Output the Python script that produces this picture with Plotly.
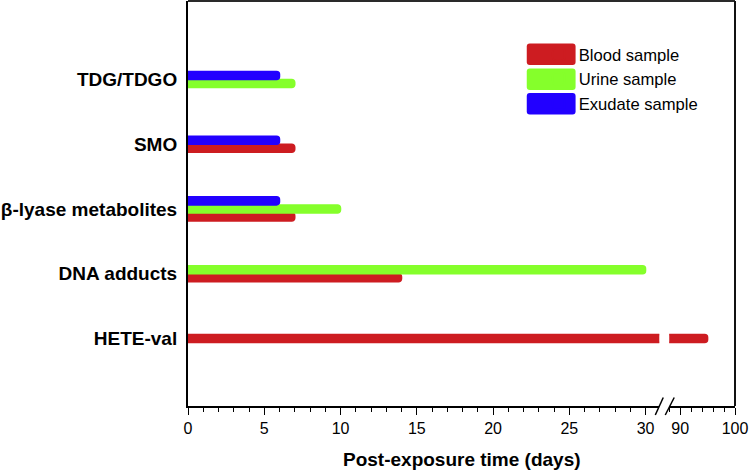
import plotly.graph_objects as go

# ---------------- data ----------------
categories = ["HETE-val", "DNA adducts", "β-lyase metabolites", "SMO", "TDG/TDGO"]  # bottom -> top
blood = [95, 14, 7, 7, None]
urine = [None, 30, 10, None, 7]
exudate = [None, None, 6, 6, 6]
series_names = ["Blood sample", "Urine sample", "Exudate sample"]
major_ticks_low = [0, 5, 10, 15, 20, 25, 30]
major_ticks_high = [90, 100]

# ---------------- styling ----------------
colors = {"Blood sample": "#CD1C21", "Urine sample": "#85FF2B", "Exudate sample": "#2200FF"}
FONT = "Liberation Sans, Arial, sans-serif"
W, H = 750, 472
L, R, T, B = 186, 15, 1, 66
PW, PH = W - L - R, H - T - B


def pxx(x):
    return (x - L) / PW


def pxy(y):
    return (T + PH - y) / PH


series_vals = {"Blood sample": blood, "Urine sample": urine, "Exudate sample": exudate}
stack_order = ["Exudate sample", "Urine sample", "Blood sample"]  # top -> bottom inside a category
bw = 0.125

offsets = {n: [None] * len(categories) for n in series_names}
for i in range(len(categories)):
    present = [n for n in stack_order if series_vals[n][i] is not None]
    nn = len(present)
    for k, n in enumerate(present):
        offsets[n][i] = nn * bw / 2 - (k + 1) * bw
for n in series_names:
    offsets[n] = [o if o is not None else 0 for o in offsets[n]]

fig = go.Figure()
for n in series_names:
    for xa, show in (("x", True), ("x2", False)):
        fig.add_trace(go.Bar(
            y=categories, x=series_vals[n], orientation="h", name=n,
            xaxis=xa, yaxis="y", offset=offsets[n], width=bw,
            marker=dict(color=colors[n], line=dict(color=colors[n], width=1.5), cornerradius=3),
            showlegend=show, legendgroup=n, hoverinfo="x+y",
        ))

x1_end, x2_start = pxx(659), pxx(669)
axis_common = dict(showline=True, linecolor="black", linewidth=1.5, showgrid=False, zeroline=False,
                   ticks="outside", ticklen=7, tickwidth=1.2, tickcolor="black",
                   tickfont=dict(family=FONT, size=16, color="black"), ticklabelstandoff=0)

fig.update_layout(
    width=W, height=H, margin=dict(l=L, r=R, t=T, b=B),
    paper_bgcolor="white", plot_bgcolor="white", barmode="overlay",
    font=dict(family=FONT, color="black"),
    xaxis=dict(domain=[0, x1_end], range=[0, 30.9], tickmode="array", tickvals=major_ticks_low,
               minor=dict(dtick=1, tick0=0, ticks="outside", ticklen=4, tickwidth=1.2, tickcolor="black"),
               anchor="y", **axis_common),
    xaxis2=dict(domain=[x2_start, 1], range=[88, 100], tickmode="array", tickvals=major_ticks_high,
                minor=dict(dtick=2, tick0=90, ticks="outside", ticklen=4, tickwidth=1.2, tickcolor="black"),
                anchor="y", **axis_common),
    yaxis=dict(type="category", categoryorder="array", categoryarray=categories,
               range=[-1.043, 5.212], showline=True, linecolor="black", linewidth=2,
               showgrid=False, zeroline=False, ticks="", ticklabelstandoff=5,
               tickfont=dict(family=FONT, size=19, color="black", weight="bold")),
    legend=dict(x=pxx(538), y=pxy(37), xanchor="left", yanchor="top",
                bgcolor="rgba(0,0,0,0)", borderwidth=0, traceorder="normal",
                font=dict(family=FONT, size=16.6, color="black"), itemwidth=30),
    showlegend=True,
)

# title of x axis (spans the broken axis)
fig.add_annotation(text="Post-exposure time (days)", xref="paper", yref="paper",
                   x=0.5, y=pxy(459), xanchor="center", yanchor="middle", showarrow=False,
                   font=dict(family=FONT, size=19, color="black", weight="bold"))

shapes = []
# frame: top and right
shapes.append(dict(type="line", xref="paper", yref="paper", x0=0, x1=1, y0=1, y1=1,
                   line=dict(color="#2a2a2a", width=2)))
shapes.append(dict(type="line", xref="paper", yref="paper", x0=1, x1=1, y0=0, y1=1,
                   line=dict(color="#111111", width=2)))
# axis break marks
for (xa, xb) in ((655, 663), (665, 674)):
    shapes.append(dict(type="line", xref="paper", yref="paper", x0=pxx(xa), y0=pxy(415),
                       x1=pxx(xb), y1=pxy(397.5), line=dict(color="black", width=1.5)))


def rounded_rect(x0, y0, x1, y1, r=3):
    X0, X1 = pxx(x0), pxx(x1)
    Yt, Yb = pxy(y0), pxy(y1)
    rx, ry = r / PW, r / PH
    return (f"M{X0+rx},{Yt} L{X1-rx},{Yt} Q{X1},{Yt} {X1},{Yt-ry} L{X1},{Yb+ry} Q{X1},{Yb} {X1-rx},{Yb} "
            f"L{X0+rx},{Yb} Q{X0},{Yb} {X0},{Yb+ry} L{X0},{Yt-ry} Q{X0},{Yt} {X0+rx},{Yt} Z")


# enlarged legend swatches
for n, (ya, yb) in zip(series_names, ((43.5, 65), (68.5, 90), (93, 114.5))):
    shapes.append(dict(type="path", xref="paper", yref="paper", path=rounded_rect(526, ya, 575, yb),
                       fillcolor=colors[n], line=dict(width=0), layer="above"))

fig.update_layout(shapes=shapes)
fig.write_html("out.html", config={"displayModeBar": False},
               post_script="document.body.style.margin='0';document.body.style.padding='0';")
